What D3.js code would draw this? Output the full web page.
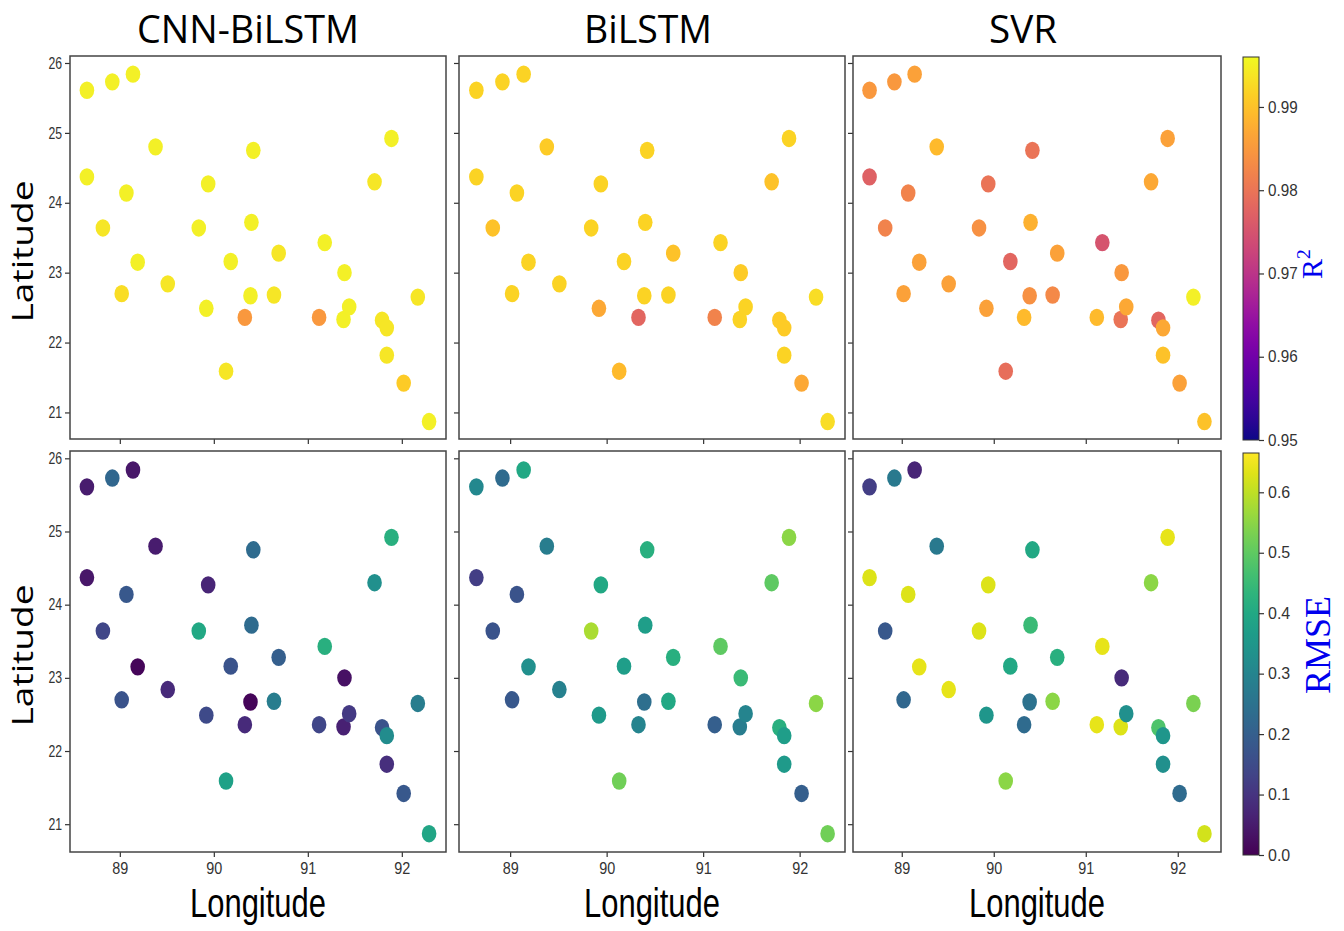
<!DOCTYPE html>
<html>
<head>
<meta charset="utf-8">
<script src="https://cdn.jsdelivr.net/npm/d3@7"></script>
<style>
  body { margin: 0; background: #fff; }
  svg { display: block; }
  text { font-family: "Open Sans", "DejaVu Sans", sans-serif; }
</style>
</head>
<body>
<div id="chart"></div>
<script>
// station locations (same for every panel)
const lon = [88.65, 88.92, 89.14, 89.38, 90.42, 91.89, 88.65, 89.07, 89.94, 91.71,
             88.82, 89.84, 90.40, 91.18, 89.19, 90.18, 90.69, 91.39, 89.02, 89.51,
             90.39, 90.64, 92.17, 89.92, 90.33, 91.12, 91.38, 91.44, 91.79, 91.84,
             91.84, 90.13, 92.02, 92.29];
const lat = [25.61, 25.73, 25.84, 24.80, 24.75, 24.92, 24.37, 24.14, 24.27, 24.30,
             23.64, 23.64, 23.72, 23.43, 23.15, 23.16, 23.28, 23.00, 22.70, 22.84,
             22.67, 22.68, 22.65, 22.49, 22.36, 22.36, 22.33, 22.51, 22.32, 22.21,
             21.82, 21.59, 21.42, 20.87];

// R2 per station
const r2Cnn = [0.995, 0.995, 0.995, 0.995, 0.995, 0.995, 0.995, 0.995, 0.995, 0.994,
               0.994, 0.995, 0.995, 0.995, 0.995, 0.995, 0.994, 0.995, 0.993, 0.994,
               0.995, 0.994, 0.994, 0.995, 0.985, 0.985, 0.995, 0.995, 0.994, 0.994,
               0.994, 0.994, 0.991, 0.995];
const r2Bilstm = [0.992, 0.992, 0.992, 0.991, 0.992, 0.992, 0.992, 0.992, 0.992, 0.990,
                  0.990, 0.992, 0.992, 0.992, 0.992, 0.992, 0.990, 0.991, 0.992, 0.992,
                  0.992, 0.992, 0.993, 0.987, 0.978, 0.982, 0.992, 0.992, 0.991, 0.991,
                  0.992, 0.989, 0.987, 0.993];
const r2Svr = [0.985, 0.985, 0.986, 0.989, 0.980, 0.986, 0.977, 0.982, 0.980, 0.987,
               0.982, 0.984, 0.988, 0.975, 0.986, 0.978, 0.986, 0.985, 0.986, 0.986,
               0.984, 0.983, 0.995, 0.986, 0.989, 0.989, 0.980, 0.987, 0.978, 0.987,
               0.990, 0.979, 0.986, 0.990];

// RMSE per station
const rmseCnn = [0.05, 0.22, 0.04, 0.05, 0.23, 0.42, 0.04, 0.18, 0.07, 0.33,
                 0.14, 0.40, 0.23, 0.42, 0.01, 0.17, 0.20, 0.03, 0.17, 0.08,
                 0.01, 0.28, 0.28, 0.15, 0.08, 0.14, 0.06, 0.11, 0.17, 0.32,
                 0.09, 0.38, 0.18, 0.39];
const rmseBilstm = [0.31, 0.23, 0.40, 0.28, 0.42, 0.55, 0.12, 0.17, 0.40, 0.50,
                    0.17, 0.58, 0.37, 0.50, 0.33, 0.37, 0.42, 0.45, 0.18, 0.29,
                    0.24, 0.40, 0.55, 0.36, 0.30, 0.20, 0.28, 0.30, 0.42, 0.37,
                    0.36, 0.52, 0.20, 0.52];
const rmseSvr = [0.12, 0.27, 0.07, 0.27, 0.40, 0.64, 0.63, 0.63, 0.63, 0.55,
                 0.18, 0.63, 0.45, 0.64, 0.64, 0.40, 0.42, 0.08, 0.22, 0.64,
                 0.25, 0.55, 0.53, 0.35, 0.23, 0.64, 0.63, 0.33, 0.48, 0.35,
                 0.33, 0.55, 0.23, 0.62];

const models = ["CNN-BiLSTM", "BiLSTM", "SVR"];
const xTicks = [89, 90, 91, 92];
const yTicks = [21, 22, 23, 24, 25, 26];
const r2Ticks = [0.95, 0.96, 0.97, 0.98, 0.99];
const rmseTicks = [0, 0.1, 0.2, 0.3, 0.4, 0.5, 0.6];

const r2Rows = [r2Cnn, r2Bilstm, r2Svr];
const rmseRows = [rmseCnn, rmseBilstm, rmseSvr];

const width = 1344, height = 931;

const svg = d3.select("#chart").append("svg")
  .attr("width", width)
  .attr("height", height);

// panel layout
const cols = [[70, 446], [459, 845], [853, 1221]];
const rows = [[56, 439], [451, 852]];
const titleX = [248, 648, 1023];

const r2Color = d3.scaleSequential(d3.interpolatePlasma).domain([0.95, 0.996]);
const rmseColor = d3.scaleSequential(d3.interpolateViridis).domain([0, 0.665]);

const tickFont = "'Liberation Sans', Arial, sans-serif";

function squeeze(sel, perChar) {
  sel.attr("textLength", function() { return this.textContent.length * perChar; })
    .attr("lengthAdjust", "spacingAndGlyphs");
}

function drawPanel(ci, ri, values, color) {
  const [x0, x1] = cols[ci];
  const [y0, y1] = rows[ri];

  const x = d3.scaleLinear().domain([88.47, 92.47]).range([x0, x1]);
  const y = d3.scaleLinear().domain([20.62, 26.1]).range([y1, y0]);

  const g = svg.append("g");

  const xAxis = g.append("g")
    .attr("transform", `translate(0,${y1})`)
    .call(d3.axisBottom(x).tickValues(xTicks).tickSize(5).tickPadding(6)
      .tickFormat(ri === 1 ? d3.format("d") : ""));

  const yAxis = g.append("g")
    .attr("transform", `translate(${x0},0)`)
    .call(d3.axisLeft(y).tickValues(yTicks).tickSize(5).tickPadding(3)
      .tickFormat(ci === 0 ? d3.format("d") : ""));

  [xAxis, yAxis].forEach(a => {
    a.select(".domain").remove();
    a.selectAll("line").attr("stroke", "#333").attr("stroke-width", 1.2);
    a.selectAll("text").attr("fill", "#333").attr("font-size", 16)
      .style("font-family", tickFont);
  });
  xAxis.selectAll("text").call(squeeze, 8);
  yAxis.selectAll("text").call(squeeze, 6.8);

  g.selectAll("ellipse")
    .data(values.map((v, i) => ({ lon: lon[i], lat: lat[i], v })))
    .enter()
    .append("ellipse")
    .attr("cx", d => x(d.lon))
    .attr("cy", d => y(d.lat))
    .attr("rx", 7.3)
    .attr("ry", 8.7)
    .attr("fill", d => color(d.v));

  g.append("rect")
    .attr("x", x0).attr("y", y0)
    .attr("width", x1 - x0).attr("height", y1 - y0)
    .attr("fill", "none")
    .attr("stroke", "#444")
    .attr("stroke-width", 1.5);
}

models.forEach((m, ci) => {
  drawPanel(ci, 0, r2Rows[ci], r2Color);
  drawPanel(ci, 1, rmseRows[ci], rmseColor);

  svg.append("text")
    .attr("x", titleX[ci])
    .attr("y", 43)
    .attr("text-anchor", "middle")
    .attr("font-size", 38)
    .attr("textLength", [222, 128, 68][ci])
    .attr("lengthAdjust", "spacingAndGlyphs")
    .text(m);

  svg.append("text")
    .attr("x", (cols[ci][0] + cols[ci][1]) / 2)
    .attr("y", 917)
    .attr("text-anchor", "middle")
    .style("font-family", tickFont)
    .attr("font-size", 40)
    .attr("textLength", 136)
    .attr("lengthAdjust", "spacingAndGlyphs")
    .text("Longitude");
});

// Latitude labels
rows.forEach(([y0, y1]) => {
  svg.append("text")
    .attr("transform", `translate(33,${(y0 + y1) / 2 + 4}) rotate(-90)`)
    .attr("text-anchor", "middle")
    .attr("font-size", 30)
    .attr("textLength", 142)
    .attr("lengthAdjust", "spacingAndGlyphs")
    .text("Latitude");
});

// colorbars
const defs = svg.append("defs");

function colorbar(id, interp, domain, ticks, fmt, y0, y1, label) {
  const cx0 = 1243, cx1 = 1259;
  const grad = defs.append("linearGradient")
    .attr("id", id)
    .attr("x1", 0).attr("y1", 1).attr("x2", 0).attr("y2", 0);
  d3.range(0, 1.0001, 0.05).forEach(t => {
    grad.append("stop").attr("offset", t).attr("stop-color", interp(t));
  });

  svg.append("rect")
    .attr("x", cx0).attr("y", y0)
    .attr("width", cx1 - cx0).attr("height", y1 - y0)
    .attr("fill", `url(#${id})`)
    .attr("stroke", "#333")
    .attr("stroke-width", 1);

  const s = d3.scaleLinear().domain(domain).range([y1, y0]);
  const ax = svg.append("g")
    .attr("transform", `translate(${cx1},0)`)
    .call(d3.axisRight(s).tickValues(ticks).tickSize(5).tickPadding(4).tickFormat(d3.format(fmt)));
  ax.select(".domain").remove();
  ax.selectAll("line").attr("stroke", "#333").attr("stroke-width", 1.2);
  ax.selectAll("text").attr("fill", "#333").attr("font-size", 16)
    .style("font-family", tickFont).call(squeeze, 7.4);

  svg.append("text")
    .attr("transform", `translate(${label.x},${label.y}) rotate(-90)`)
    .attr("text-anchor", "middle")
    .attr("fill", "#0000ee")
    .style("font-family", "'Liberation Serif', 'DejaVu Serif', serif")
    .attr("font-size", label.size)
    .call(t => {
      t.append("tspan").text(label.main);
      if (label.sup) {
        t.append("tspan").attr("dy", -12).attr("font-size", label.size * 0.65).text(label.sup);
      }
    });
}

colorbar("plasmaGrad", d3.interpolatePlasma, [0.95, 0.996], r2Ticks, ".2f", 57, 440,
  { x: 1322, y: 264, size: 30, main: "R", sup: "2" });
colorbar("viridisGrad", d3.interpolateViridis, [0, 0.665], rmseTicks, ".1f", 453, 855,
  { x: 1330, y: 645, size: 36, main: "RMSE" });
</script>
</body>
</html>
